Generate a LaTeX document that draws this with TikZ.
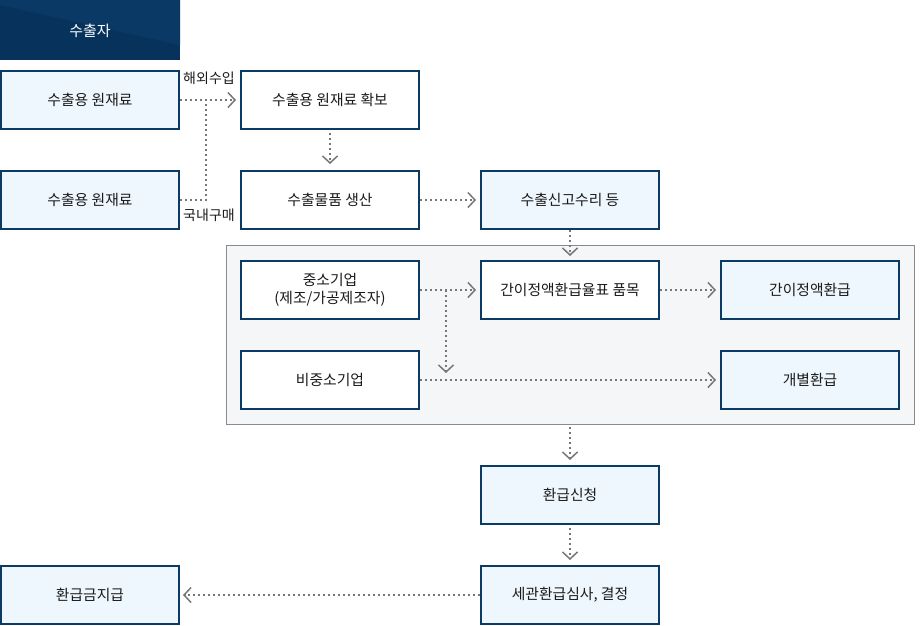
\documentclass[tikz,border=0pt]{standalone}
\usepackage{fontspec}
\setmainfont{Noto Sans CJK KR}
\usetikzlibrary{arrows.meta}
\definecolor{navy}{HTML}{0B3A64}
\definecolor{lightfill}{HTML}{EEF7FE}
\definecolor{panelfill}{HTML}{F5F6F8}
\definecolor{panelline}{HTML}{8A8A8A}
\definecolor{conncol}{HTML}{777777}
\definecolor{txt}{HTML}{1A1A1A}
\definecolor{headA}{HTML}{0A3966}
\definecolor{headB}{HTML}{07325C}
\begin{document}
\begin{tikzpicture}[x=1pt,y=-1pt,
  box/.style={draw=navy, line width=2pt, minimum width=178pt, minimum height=58pt,
    inner sep=0pt, align=center, text=txt, font=\fontsize{14.8}{18}\selectfont},
  wbox/.style={box, fill=white},
  lbox/.style={box, fill=lightfill},
  conn/.style={draw=conncol, line width=1.8pt, dash pattern=on 1.8pt off 3.2pt,
    -{Straight Barb[length=7pt,width=15pt,line width=1.5pt]}},
  connplain/.style={draw=conncol, line width=1.8pt, dash pattern=on 1.8pt off 3.2pt},
  lbl/.style={text=txt, font=\fontsize{14}{16}\selectfont, inner sep=0pt}
]
\useasboundingbox (0,0) rectangle (920,625);
% header
\fill[headB] (0,0) rectangle (180,60);
\fill[headA] (0,0) -- (180,0) -- (180,45) -- (0,5) -- cycle;
\node[text=white, font=\fontsize{15}{18}\selectfont, inner sep=0pt] (hdr) at (90,31) {수출자};
% panel
\draw[fill=panelfill, draw=panelline, line width=1pt] (226,245) rectangle (914,424);
\coordinate (ptop) at (570,245);
\coordinate (pbot) at (570,424);
% boxes
\node[lbox] (raw1) at (90,100) {수출용 원재료};
\node[wbox] (secure) at (330,100) {수출용 원재료 확보};
\node[lbox] (raw2) at (90,200) {수출용 원재료};
\node[wbox] (prod) at (330,200) {수출물품 생산};
\node[lbox] (decl) at (570,200) {수출신고수리 등};
\node[wbox] (sme) at (330,290) {중소기업\\(제조/가공제조자)};
\node[wbox] (table) at (570,290) {간이정액환급율표 품목};
\node[lbox] (simple) at (810,290) {간이정액환급};
\node[wbox] (nonsme) at (330,380) {비중소기업};
\node[lbox] (indiv) at (810,380) {개별환급};
\node[lbox] (apply) at (570,495) {환급신청};
\node[lbox] (review) at (570,595) {세관환급심사, 결정};
\node[lbox] (pay) at (90,595) {환급금지급};
% labels
\node[lbl] (lab1) at (209,78) {해외수입};
\node[lbl] (lab2) at (209,215) {국내구매};
% connectors
\coordinate (j) at (206,100);
\draw[conn, shorten >=4pt] (raw1.east) -- (secure.west);
\draw[connplain] (raw2.east) -- (raw2.east -| j) -- (j);
\draw[conn, shorten <=3pt, shorten >=6pt] (secure.south) -- (prod.north);
\draw[conn, shorten >=4pt] (prod.east) -- (decl.west);
\draw[conn, shorten >=4pt] (decl.south) -- (table.north);
\draw[conn, shorten >=4pt] (sme.east) -- (table.west);
\coordinate (b) at (446,290);
\coordinate (bend) at (446,380);
\draw[conn, shorten >=7pt] (b) -- (bend);
\draw[conn, shorten >=4pt] (table.east) -- (simple.west);
\draw[conn, shorten >=4pt] (nonsme.east) -- (indiv.west);
\draw[conn, shorten <=3pt, shorten >=5pt] (pbot) -- (apply.north);
\draw[conn, shorten <=3pt, shorten >=5pt] (apply.south) -- (review.north);
\draw[conn, shorten >=3pt] (review.west) -- (pay.east);
\end{tikzpicture}
\end{document}
